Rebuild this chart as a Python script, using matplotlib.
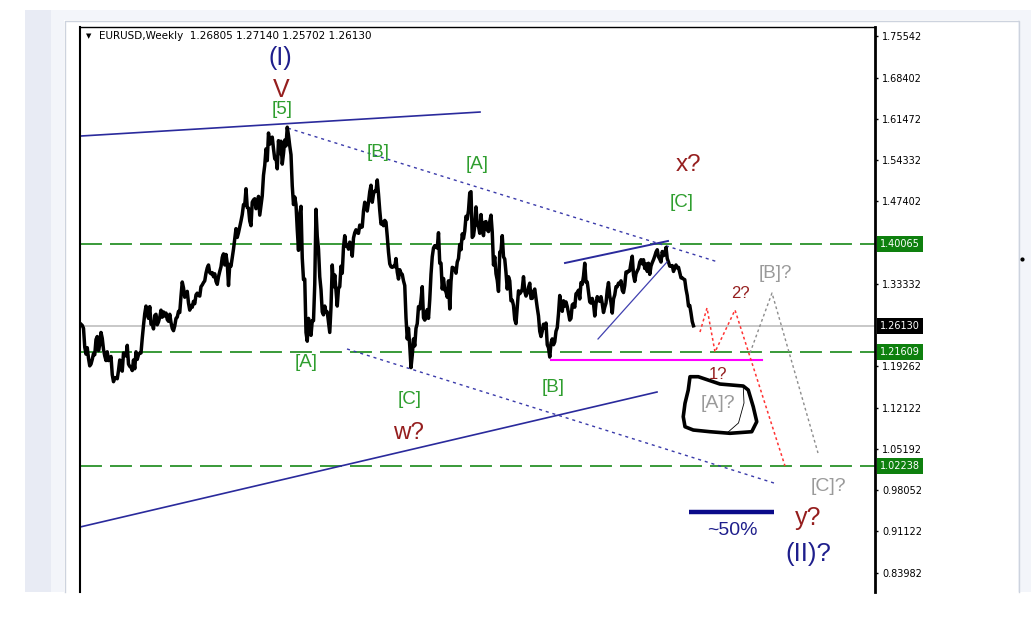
import numpy as np
import matplotlib
matplotlib.use('Agg')
import matplotlib.pyplot as plt
from matplotlib.patches import Rectangle, Polygon
from matplotlib.lines import Line2D
from matplotlib.transforms import blended_transform_factory

plt.rcParams['lines.scale_dashes'] = False

# EURUSD weekly: week 0 = mid May 2005
closes_2005 = [1.2640, 1.2620, 1.2570, 1.2250, 1.2130, 1.2240, 1.2060, 1.1930, 1.1960, 1.2040,
               1.2140, 1.2120, 1.2380, 1.2430, 1.2190, 1.2290, 1.2500, 1.2400, 1.2210, 1.2100,
               1.2020, 1.2170, 1.2020, 1.2030, 1.2090, 1.1780, 1.1660, 1.1720, 1.1730, 1.1710,
               1.1850, 1.2030, 1.1870, 1.1840]
closes_2006 = [1.2150, 1.2110, 1.2100, 1.2280, 1.1960, 1.1920, 1.1910, 1.1850, 1.2030, 1.1880,
               1.2170, 1.2040, 1.2120, 1.2150, 1.2150, 1.2400, 1.2620, 1.2820, 1.2950, 1.2830,
               1.2740, 1.2940, 1.2640, 1.2650, 1.2560, 1.2790, 1.2810, 1.2630, 1.2680, 1.2760,
               1.2880, 1.2760, 1.2850, 1.2780, 1.2830, 1.2720, 1.2690, 1.2810, 1.2670, 1.2570,
               1.2530, 1.2610, 1.2740, 1.2760, 1.2860, 1.2840, 1.3120, 1.3360, 1.3260, 1.3100,
               1.3160, 1.3200]
closes_2007 = [1.3000, 1.2880, 1.2960, 1.2930, 1.3030, 1.2990, 1.3140, 1.3170, 1.3130, 1.3120,
               1.3280, 1.3310, 1.3350, 1.3380, 1.3510, 1.3600, 1.3650, 1.3520, 1.3500, 1.3520,
               1.3450, 1.3500, 1.3370, 1.3320, 1.3450, 1.3540, 1.3620, 1.3780, 1.3840, 1.3650,
               1.3830, 1.3680, 1.3300, 1.3660, 1.3630, 1.3780, 1.3920, 1.4100, 1.4270, 1.4120,
               1.4200, 1.4300, 1.4400, 1.4510, 1.4680, 1.4670, 1.4950, 1.4630, 1.4620, 1.4400,
               1.4320, 1.4720]
closes_2008 = [1.4760, 1.4780, 1.4610, 1.4670, 1.4820, 1.4500, 1.4660, 1.4830, 1.5180, 1.5350,
               1.5630, 1.5430, 1.5900, 1.5710, 1.5800, 1.5830, 1.5630, 1.5460, 1.5480, 1.5290,
               1.5770, 1.5550, 1.5760, 1.5370, 1.5550, 1.5780, 1.5680, 1.6000, 1.5860, 1.5680,
               1.5530, 1.5000, 1.4680, 1.4810, 1.4680, 1.4260, 1.3900, 1.4520, 1.4650, 1.3770,
               1.3400, 1.3410, 1.2500, 1.2350, 1.2740, 1.2610, 1.2450, 1.2700, 1.2700, 1.3320,
               1.4600, 1.4140]
closes_2009 = [1.3920, 1.3450, 1.3230, 1.2850, 1.2800, 1.2950, 1.2850, 1.2850, 1.2670, 1.2500,
               1.2930, 1.3650, 1.3280, 1.3480, 1.3220, 1.2950, 1.3250, 1.3280, 1.3630, 1.3510,
               1.3960, 1.4150, 1.3970, 1.3990, 1.3920, 1.4040, 1.4000, 1.3800, 1.4110, 1.4200,
               1.4250, 1.4200, 1.4190, 1.4330, 1.4290, 1.4300, 1.4570, 1.4720, 1.4680, 1.4570,
               1.4720, 1.4900, 1.5010, 1.4720, 1.4860, 1.4910, 1.4910, 1.5100, 1.4860, 1.4580,
               1.4350, 1.4380]
closes_2010 = [1.4320, 1.4410, 1.4380, 1.4140, 1.3870, 1.3670, 1.3620, 1.3610, 1.3630, 1.3620,
               1.3760, 1.3530, 1.3410, 1.3570, 1.3510, 1.3490, 1.3380, 1.3300, 1.2750, 1.2390,
               1.2570, 1.2270, 1.1900, 1.2110, 1.2390, 1.2270, 1.2570, 1.2650, 1.2940, 1.2900,
               1.3050, 1.3280, 1.2750, 1.2710, 1.2750, 1.2890, 1.2740, 1.3060, 1.3490, 1.3790,
               1.3940, 1.3980, 1.3950, 1.3940, 1.4200, 1.3680, 1.3680, 1.3240, 1.3420, 1.3230,
               1.3190, 1.3100, 1.3380]
closes_2011 = [1.2900, 1.3370, 1.3610, 1.3600, 1.3580, 1.3510, 1.3700, 1.3760, 1.4000, 1.3910,
               1.4180, 1.4100, 1.4230, 1.4480, 1.4430, 1.4580, 1.4880, 1.4900, 1.4120, 1.4150,
               1.4310, 1.4640, 1.4340, 1.4310, 1.4190, 1.4510, 1.4260, 1.4150, 1.4380, 1.4390,
               1.4250, 1.4220, 1.4390, 1.4500, 1.4210, 1.3650, 1.3790, 1.3500, 1.3390, 1.3200,
               1.3870, 1.3890, 1.4150, 1.3790, 1.3750, 1.3520, 1.3240, 1.3450, 1.3380, 1.3040,
               1.3050, 1.2960]
closes_2012 = [1.2720, 1.2650, 1.2930, 1.3210, 1.3160, 1.3190, 1.3240, 1.3450, 1.3200, 1.3120,
               1.3170, 1.3270, 1.3340, 1.3080, 1.3080, 1.3200, 1.3240, 1.3080, 1.2920, 1.2780,
               1.2520, 1.2430, 1.2520, 1.2640, 1.2570, 1.2660, 1.2290, 1.2240, 1.2080, 1.2320,
               1.2390, 1.2290, 1.2340, 1.2520, 1.2580, 1.2820, 1.3130, 1.2980, 1.2860, 1.3040,
               1.2950, 1.3020, 1.2940, 1.2830, 1.2710, 1.2740, 1.2970, 1.2990, 1.2930, 1.3160,
               1.3180, 1.3220]
closes_2013 = [1.3070, 1.3350, 1.3320, 1.3460, 1.3680, 1.3360, 1.3360, 1.3190, 1.3020, 1.3000,
               1.3080, 1.2990, 1.2780, 1.2990, 1.3110, 1.3050, 1.3030, 1.3110, 1.2990, 1.2840,
               1.2930, 1.3000, 1.3220, 1.3350, 1.3120, 1.3010, 1.2830, 1.3070, 1.3140, 1.3280,
               1.3280, 1.3340, 1.3330, 1.3380, 1.3220, 1.3180, 1.3300, 1.3530, 1.3520, 1.3550,
               1.3550, 1.3690, 1.3800, 1.3480, 1.3370, 1.3500, 1.3550, 1.3590, 1.3700, 1.3740,
               1.3670, 1.3740]
closes_2014 = [1.3590, 1.3670, 1.3540, 1.3680, 1.3490, 1.3630, 1.3690, 1.3740, 1.3800, 1.3870,
               1.3910, 1.3790, 1.3750, 1.3700, 1.3880, 1.3810, 1.3830, 1.3950, 1.3760, 1.3700,
               1.3630, 1.3630, 1.3640, 1.3540, 1.3600, 1.3650, 1.3600, 1.3610, 1.3520, 1.3430,
               1.3430, 1.3410, 1.3400, 1.3240, 1.3130, 1.2950, 1.2960, 1.2830, 1.2685, 1.2613]

closes = (closes_2005 + closes_2006 + closes_2007 + closes_2008 + closes_2009 +
          closes_2010 + closes_2011 + closes_2012 + closes_2013 + closes_2014)
weeks = np.arange(len(closes))

header = "EURUSD,Weekly  1.26805 1.27140 1.25702 1.26130"
price_ticks = [1.75542, 1.68402, 1.61472, 1.54332, 1.47402, 1.33332,
               1.19262, 1.12122, 1.05192, 0.98052, 0.91122, 0.83982]
green_levels = [1.40065, 1.21609, 1.02238]
last_price = 1.26130

# drawn objects, as (week, price) end points
trend_solid = [((-1, 1.5848), (319.2, 1.6258)),
               ((-1, 0.9181), (460.8, 1.1484))]
trend_dotted = [((165.6, 1.5983), (509.6, 1.3701)),
                ((212.8, 1.2218), (556.8, 0.9916))]
wedge_top = ((387.2, 1.3684), (469.6, 1.4059))
wedge_low = ((413.6, 1.2388), (468.8, 1.3701))
magenta_level = ((375.8, 1.2030), (544.6, 1.2030))
bar_50 = ((486.4, 0.9438), (554.4, 0.9438))
red_path_w = [495.2, 500.8, 507.2, 523.2, 563.2]
red_path_p = [1.2507, 1.2917, 1.2166, 1.2882, 1.0223]
gray_path_w = [535.2, 552.8, 589.6]
gray_path_p = [1.2150, 1.3172, 1.0444]
blob_w = [487.2, 493.8, 511.2, 529.8, 533.8, 537.8, 540.6, 536.6, 519.2, 503.2,
          489.8, 483.2, 481.8, 483.2, 485.8]
blob_p = [1.1745, 1.1745, 1.1620, 1.1586, 1.1518, 1.1233, 1.0978, 1.0807, 1.0780, 1.0807,
          1.0836, 1.0892, 1.1063, 1.1291, 1.1518]
stroke_w = [529.8, 530.4, 526.0, 516.8]
stroke_p = [1.1569, 1.1297, 1.0956, 1.0785]

GREEN = '#2f9e2f'
RED = '#951e1e'
NAVY = '#1e1e8c'
GREY = '#9a9a9a'
labels = [
    ('(I)', 159.2, 1.7179, NAVY, 18),
    ('V', 160.0, 1.6634, RED, 18),
    ('[5]', 160.8, 1.6293, GREEN, 13.5),
    ('[B]', 237.6, 1.5576, GREEN, 13.5),
    ('[A]', 316.8, 1.5355, GREEN, 13.5),
    ('x?', 485.6, 1.5355, RED, 17.5),
    ('[C]', 480.8, 1.4724, GREEN, 13.5),
    ('[A]', 180.0, 1.1979, GREEN, 13.5),
    ('[C]', 263.2, 1.1348, GREEN, 13.5),
    ('w?', 261.6, 1.0785, RED, 17.5),
    ('[B]', 377.6, 1.1553, GREEN, 13.5),
    ('1?', 509.6, 1.1791, RED, 12),
    ('2?', 527.2, 1.3172, RED, 12),
    ('[B]?', 555.2, 1.3513, GREY, 13.5),
    ('[A]?', 509.6, 1.1280, GREY, 14),
    ('[C]?', 597.6, 0.9865, GREY, 14),
    ('~50%', 520.8, 0.9131, NAVY, 14),
    ('y?', 581.6, 0.9336, RED, 18),
    ('(II)?', 581.6, 0.8722, NAVY, 18.5),
]

W, H = 1031, 635
fig = plt.figure(figsize=(W / 100, H / 100), dpi=100)
fig.patch.set_facecolor('white')


def px_rect(x0, y0, x1, y1, **kw):
    # pixel box (top-left origin) -> figure fraction rectangle
    r = Rectangle((x0 / W, 1 - y1 / H), (x1 - x0) / W, (y1 - y0) / H,
                  transform=fig.transFigure, zorder=-5, **kw)
    fig.add_artist(r)


def px_line(xs, ys, **kw):
    fig.add_artist(Line2D([x / W for x in xs], [1 - y / H for y in ys],
                          transform=fig.transFigure, zorder=-4, **kw))


# window chrome around the chart
px_rect(25, 10, 51, 592, facecolor='#e8ebf4', edgecolor='none')
px_rect(51, 10, 1031, 20, facecolor='#f3f5fa', edgecolor='none')
px_rect(51, 20, 64, 592, facecolor='#f3f5fa', edgecolor='none')
px_rect(1018, 20, 1031, 592, facecolor='#f3f5fa', edgecolor='none')
px_line([64.5, 64.5, 1018.5, 1018.5], [592, 20.5, 20.5, 592], color='#cdd3de', lw=1)

ax = fig.add_axes([80 / W, 1 - 592 / H, 795 / W, 565 / H])
ax.set_zorder(1)
ax.set_facecolor('white')
ax.set_xlim(-0.8, 635.2)
ax.set_ylim(0.8074, 1.7708)

ax.spines['bottom'].set_visible(False)
ax.spines['top'].set_linewidth(1.0)
ax.spines['left'].set_linewidth(1.5)
ax.spines['right'].set_linewidth(2.0)
for s in ax.spines.values():
    s.set_color('black')

ax.set_xticks([])
ax.yaxis.tick_right()
ax.set_yticks(price_ticks)
ax.set_yticklabels(['%.5f' % t for t in price_ticks])
ax.tick_params(axis='y', length=2.5, width=1, pad=2.8, labelsize=7, direction='out')

# levels
ax.axhline(last_price, color='#c8c8c8', lw=1.4, zorder=1)
for lv in green_levels:
    ax.axhline(lv, color='#2a922a', lw=1.3, linestyle=(0, (15.8, 5.8)), zorder=1)
ax.plot(*zip(*magenta_level), color='#ff00ff', lw=1.5, zorder=2)

# price
ax.plot(weeks, closes, color='black', lw=2.5, zorder=3)

# trend lines
for a, b in trend_solid:
    ax.plot([a[0], b[0]], [a[1], b[1]], color='#2a2a9c', lw=1.2, zorder=2)
for a, b in trend_dotted:
    ax.plot([a[0], b[0]], [a[1], b[1]], color='#3a3aaa', lw=1.0,
            linestyle=(0, (2.2, 2.8)), zorder=2)
ax.plot(*zip(*wedge_top), color='#2a2a9c', lw=1.4, zorder=4)
ax.plot(*zip(*wedge_low), color='#4040b0', lw=0.9, zorder=4)
ax.plot(*zip(*bar_50), color='#0a0a8a', lw=3.2, solid_capstyle='butt', zorder=4)

# projected paths
ax.plot(red_path_w, red_path_p, color='#ff3333', lw=1.1, linestyle=(0, (2, 2)), zorder=4)
ax.plot(gray_path_w, gray_path_p, color='#8c8c8c', lw=1.0, linestyle=(0, (2, 2)), zorder=4)

# hand drawn loop round [A]?
ax.add_patch(Polygon(list(zip(blob_w, blob_p)), closed=True, fill=False,
                     edgecolor='black', lw=2.6, joinstyle='round', zorder=5))
ax.plot(stroke_w, stroke_p, color='black', lw=0.6, zorder=5)

for txt, w, p, c, fs in labels:
    ax.text(w, p, txt, color=c, fontsize=fs, ha='center', va='center',
            family='Liberation Sans', zorder=6)

# header
ax.text(0.007, 0.984, '\u25bc', transform=ax.transAxes, fontsize=5,
        va='center', ha='left', color='black')
ax.text(0.024, 0.984, header, transform=ax.transAxes, fontsize=7.5,
        va='center', ha='left', color='black', family='DejaVu Sans')

# price boxes on the scale
tr = blended_transform_factory(ax.transAxes, ax.transData)
for lv in green_levels:
    ax.text(1.006, lv, '%.5f' % lv, transform=tr, fontsize=7, color='white',
            va='center', ha='left', zorder=10, clip_on=False,
            bbox=dict(boxstyle='square,pad=0.3', fc='#0e800e', ec='none'))
ax.text(1.006, last_price, '%.5f' % last_price, transform=tr, fontsize=7, color='white',
        va='center', ha='left', zorder=10, clip_on=False,
        bbox=dict(boxstyle='square,pad=0.3', fc='black', ec='none'))

fig.add_artist(Line2D([1022 / W], [1 - 259 / H], marker='o', markersize=2,
                      color='black', linestyle='none', transform=fig.transFigure))

fig.savefig('out.png', dpi=100)
